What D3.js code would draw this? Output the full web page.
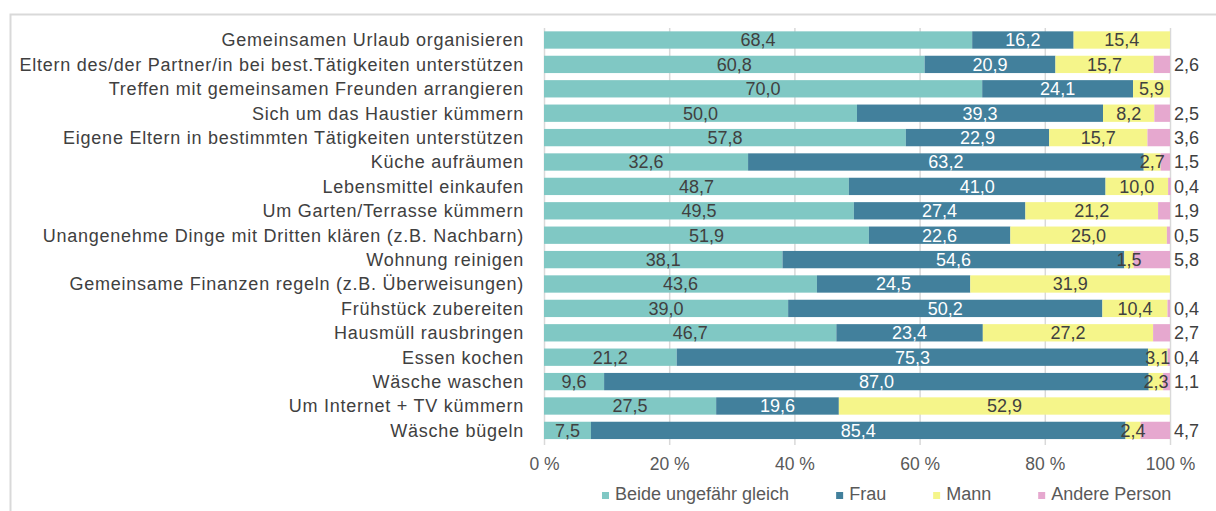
<!DOCTYPE html>
<html>
<head>
<meta charset="utf-8">
<script src="https://cdn.jsdelivr.net/npm/d3@7"></script>
<style>
  body { margin: 0; background: #fff; }
  text { font-family: "Liberation Sans", Arial, sans-serif; }
</style>
</head>
<body>
<svg></svg>
<script>
// SVG
var width = 1216;
var height = 511;

// Data
var categories = [
    "Gemeinsamen Urlaub organisieren",
    "Eltern des/der Partner/in bei best.Tätigkeiten unterstützen",
    "Treffen mit gemeinsamen Freunden arrangieren",
    "Sich um das Haustier kümmern",
    "Eigene Eltern in bestimmten Tätigkeiten unterstützen",
    "Küche aufräumen",
    "Lebensmittel einkaufen",
    "Um Garten/Terrasse kümmern",
    "Unangenehme Dinge mit Dritten klären (z.B. Nachbarn)",
    "Wohnung reinigen",
    "Gemeinsame Finanzen regeln (z.B. Überweisungen)",
    "Frühstück zubereiten",
    "Hausmüll rausbringen",
    "Essen kochen",
    "Wäsche waschen",
    "Um Internet + TV kümmern",
    "Wäsche bügeln"
];
var beide  = [68.4, 60.8, 70.0, 50.0, 57.8, 32.6, 48.7, 49.5, 51.9, 38.1, 43.6, 39.0, 46.7, 21.2, 9.6, 27.5, 7.5];
var frau   = [16.2, 20.9, 24.1, 39.3, 22.9, 63.2, 41.0, 27.4, 22.6, 54.6, 24.5, 50.2, 23.4, 75.3, 87.0, 19.6, 85.4];
var mann   = [15.4, 15.7, 5.9, 8.2, 15.7, 2.7, 10.0, 21.2, 25.0, 1.5, 31.9, 10.4, 27.2, 3.1, 2.3, 52.9, 2.4];
var andere = [0, 2.6, 0, 2.5, 3.6, 1.5, 0.4, 1.9, 0.5, 5.8, 0, 0.4, 2.7, 0.4, 1.1, 0, 4.7];

var seriesNames = ["Beide ungefähr gleich", "Frau", "Mann", "Andere Person"];
var keys = ["beide", "frau", "mann", "andere"];
var colors = ["#80c8c4", "#42809c", "#f5f58a", "#e6a8cf"];
var labelColors = ["#404040", "#ffffff", "#404040", "#404040"];
var xTicks = [0, 20, 40, 60, 80, 100];

var rows = categories.map(function(c, i) {
    return { cat: c, beide: beide[i], frau: frau[i], mann: mann[i], andere: andere[i] };
});

// Scales
var xScale = d3.scaleLinear()
    .domain([0, 100])
    .range([544, 1170]);

var yScale = d3.scaleBand()
    .domain(categories)
    .range([27.8, 442.6])
    .paddingInner(0.29)
    .paddingOuter(0.145);

var fmt = function(v) { return d3.format(".1f")(v).replace(".", ","); };

var svg = d3.select("svg")
    .attr("width", width)
    .attr("height", height);

// frame
svg.append("path")
    .attr("d", "M10.5," + height + "V14.5H" + width)
    .attr("fill", "none")
    .attr("stroke", "#d9d9d9")
    .attr("stroke-width", 2);

// grid + x axis
var xAxis = d3.axisBottom(xScale)
    .tickValues(xTicks)
    .tickSize(-417)
    .tickSizeOuter(0)
    .tickPadding(13)
    .tickFormat(function(d) { return d + " %"; });

var gx = svg.append("g")
    .attr("transform", "translate(0,445)")
    .call(xAxis);
gx.select(".domain").remove();
gx.selectAll(".tick line").attr("stroke", "#d9d9d9").attr("stroke-width", 1.5);
gx.selectAll(".tick text")
    .attr("fill", "#595959")
    .style("font-size", "17.5px")
    .style("font-family", "'Liberation Sans', Arial, sans-serif");

// stacked bars
var stack = d3.stack().keys(keys);
var layers = stack(rows);

var g = svg.append("g");
layers.forEach(function(layer, k) {
    g.selectAll(".bar" + k)
        .data(layer)
        .enter().append("rect")
        .attr("x", d => xScale(d[0]))
        .attr("y", d => yScale(d.data.cat))
        .attr("width", d => xScale(d[1]) - xScale(d[0]))
        .attr("height", yScale.bandwidth())
        .attr("fill", colors[k]);
});

// value labels
layers.forEach(function(layer, k) {
    var vals = layer.filter(d => d[1] - d[0] > 0);
    g.selectAll(".lab" + k)
        .data(vals)
        .enter().append("text")
        .attr("x", d => k === 3 ? xScale(100) + 4 : xScale((d[0] + d[1]) / 2))
        .attr("y", d => yScale(d.data.cat) + yScale.bandwidth() / 2)
        .attr("dy", "0.36em")
        .attr("text-anchor", k === 3 ? "start" : "middle")
        .attr("fill", labelColors[k])
        .style("font-size", "18px")
        .text(d => fmt(d[1] - d[0]));
});

// category labels
svg.append("g").selectAll("text")
    .data(categories)
    .enter().append("text")
    .attr("x", 524)
    .attr("y", d => yScale(d) + yScale.bandwidth() / 2)
    .attr("dy", "0.36em")
    .attr("text-anchor", "end")
    .attr("fill", "#404040")
    .style("font-size", "18px")
    .style("letter-spacing", "0.75px")
    .text(d => d);

// legend
var lg = svg.append("g");
var lx = 602;
seriesNames.forEach(function(name, k) {
    lg.append("rect")
        .attr("x", lx)
        .attr("y", 492)
        .attr("width", 7)
        .attr("height", 7)
        .attr("fill", colors[k]);
    var t = lg.append("text")
        .attr("x", lx + 13)
        .attr("y", 499.5)
        .attr("fill", "#595959")
        .style("font-size", "18px")
        .text(name);
    lx += 13 + t.node().getComputedTextLength() + 47;
});
</script>
</body>
</html>
